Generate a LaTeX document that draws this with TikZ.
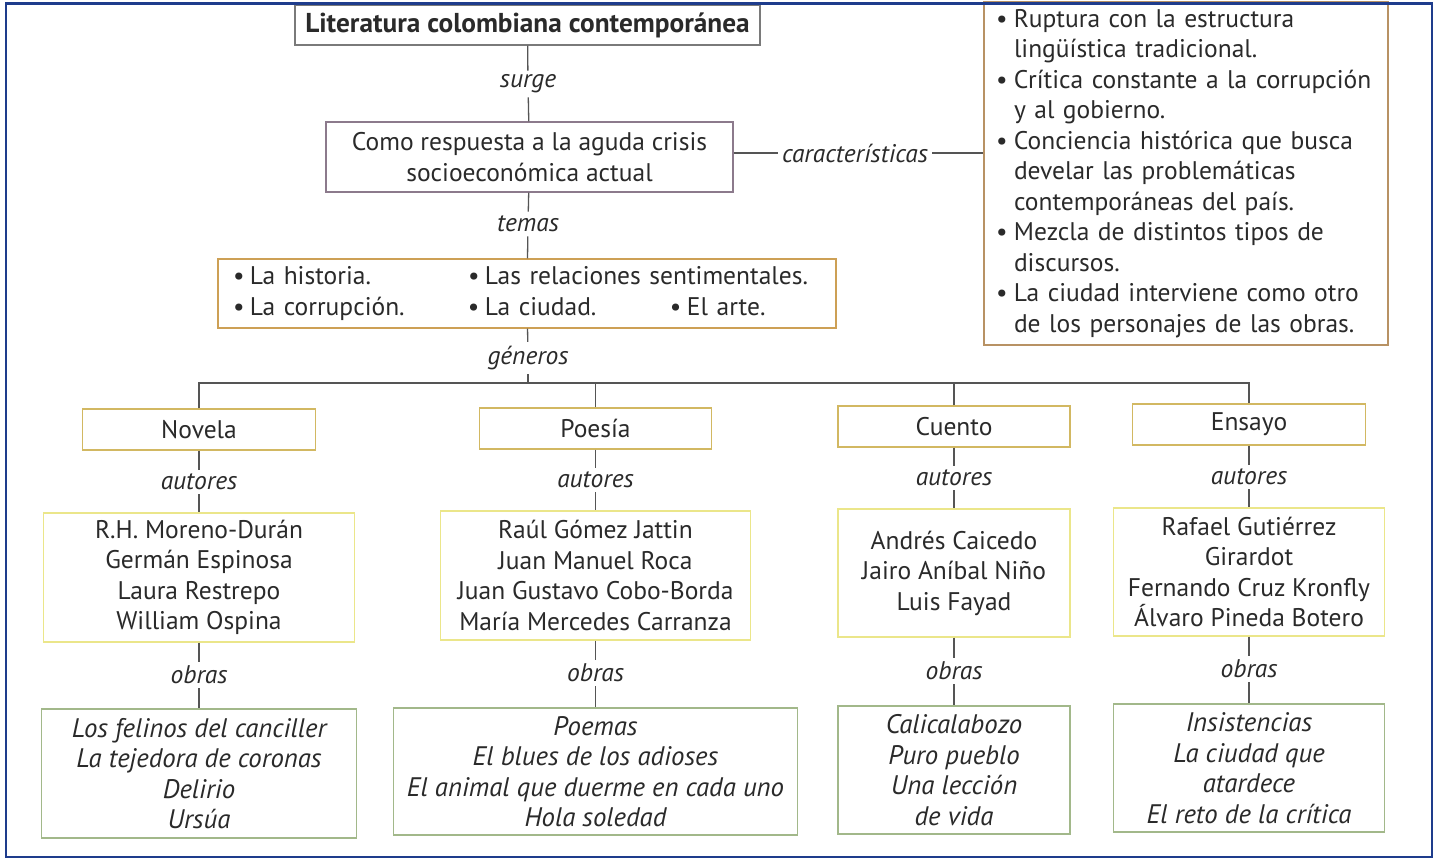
\documentclass[tikz,border=0pt]{standalone}
\usepackage{fontspec}
\setmainfont{PT Sans}
\newcommand\dgsize{\fontsize{25.5}{30.5}\selectfont}
\newcommand\dgtitle{\fontsize{27.3}{30.5}\selectfont\bfseries}
\newcommand\dgworks{\fontsize{26.8}{30.5}\selectfont\itshape}
\definecolor{titleC}{HTML}{7A7A7A}
\definecolor{boxtwoC}{HTML}{8C7A8C}
\definecolor{topicC}{HTML}{CDA055}
\definecolor{charC}{HTML}{B89264}
\definecolor{genreC}{HTML}{D2B862}
\definecolor{autC}{HTML}{EBE68A}
\definecolor{obrC}{HTML}{A2B88A}
\definecolor{lineC}{HTML}{555555}
\definecolor{frameC}{HTML}{1E3C8C}
\definecolor{textC}{HTML}{2A2A2A}
\begin{document}
\begin{tikzpicture}[x=1pt,y=-1pt,
  box/.style={draw, rectangle, inner sep=0pt, align=center, font=\dgsize, text=textC, line width=1.2pt},
  lab/.style={font=\dgsize\itshape, text=textC, inner sep=4pt},
  conn/.style={draw=lineC, line width=1.3pt}]
\useasboundingbox (0,0) rectangle (1435,859);
\fill[white] (0,0) rectangle (1435,859);

% top
\node[box, draw=titleC, minimum width=465, minimum height=40, font=\dgtitle] (title) at (527.5,25) {Literatura colombiana contemporánea};
\node[lab] (surge) at (528,84) {surge};
\node[box, draw=boxtwoC, minimum width=407, minimum height=70] (crisis) at (529.5,157) {Como respuesta a la aguda crisis\\socioeconómica actual};
\node[lab] (temas) at (528,224) {temas};
\node[box, draw=topicC, minimum width=618, minimum height=69, inner xsep=9pt, text width=600, align=left] (topics) at (527,293.5)
  {\hspace*{6pt}\makebox[235pt][l]{\makebox[17pt][l]{•}La historia.}\makebox[17pt][l]{•}Las relaciones sentimentales.\\
   \hspace*{6pt}\makebox[235pt][l]{\makebox[17pt][l]{•}La corrupción.}\makebox[202pt][l]{\makebox[17pt][l]{•}La ciudad.}\makebox[17pt][l]{•}El arte.};
\node[lab] (generos) at (528,358) {géneros};
\coordinate (barc) at (528,383);

% characteristics
\node[lab] (carac) at (855,153) {características};
\node[box, draw=charC, minimum width=404, minimum height=343, inner xsep=6pt, text width=392, align=left] (chars) at (1186,173.5)
  {\hspace*{6pt}\makebox[18pt][l]{•}Ruptura con la estructura\\
   \hspace*{24pt}lingüística tradicional.\\
   \hspace*{6pt}\makebox[18pt][l]{•}Crítica constante a la corrupción\\
   \hspace*{24pt}y al gobierno.\\
   \hspace*{6pt}\makebox[18pt][l]{•}Conciencia histórica que busca\\
   \hspace*{24pt}develar las problemáticas\\
   \hspace*{24pt}contemporáneas del país.\\
   \hspace*{6pt}\makebox[18pt][l]{•}Mezcla de distintos tipos de\\
   \hspace*{24pt}discursos.\\
   \hspace*{6pt}\makebox[18pt][l]{•}La ciudad interviene como otro\\
   \hspace*{24pt}de los personajes de las obras.};

% genres
\node[box, draw=genreC, minimum width=233, minimum height=41] (novela) at (199,429.5) {Novela};
\node[box, draw=genreC, minimum width=232, minimum height=41] (poesia) at (595.5,428.5) {Poesía};
\node[box, draw=genreC, minimum width=232, minimum height=41] (cuento) at (954,426.5) {Cuento};
\node[box, draw=genreC, minimum width=233, minimum height=41] (ensayo) at (1249,424.5) {Ensayo};

\node[lab] (autN) at (199,482) {autores};
\node[lab] (autP) at (595.5,480) {autores};
\node[lab] (autC) at (954,478) {autores};
\node[lab] (autE) at (1249,477) {autores};

\node[box, draw=autC, minimum width=311, minimum height=129] (authN) at (199,577.5)
  {R.H. Moreno-Durán\\Germán Espinosa\\Laura Restrepo\\William Ospina};
\node[box, draw=autC, minimum width=310, minimum height=129] (authP) at (595.5,575.5)
  {Raúl Gómez Jattin\\Juan Manuel Roca\\Juan Gustavo Cobo-Borda\\María Mercedes Carranza};
\node[box, draw=autC, minimum width=232, minimum height=128] (authC) at (954,573)
  {Andrés Caicedo\\Jairo Aníbal Niño\\Luis Fayad};
\node[box, draw=autC, minimum width=271, minimum height=128] (authE) at (1249,572)
  {Rafael Gutiérrez\\Girardot\\Fernando Cruz Kronfly\\Álvaro Pineda Botero};

\node[lab] (obN) at (199,675) {obras};
\node[lab] (obP) at (595.5,673) {obras};
\node[lab] (obC) at (954,671) {obras};
\node[lab] (obE) at (1249,669) {obras};

\node[box, draw=obrC, minimum width=315, minimum height=129, font=\dgworks] (worksN) at (199,773.5)
  {Los felinos del canciller\\La tejedora de coronas\\Delirio\\Ursúa};
\node[box, draw=obrC, minimum width=404, minimum height=127, font=\dgworks] (worksP) at (595.5,771.5)
  {Poemas\\El blues de los adioses\\El animal que duerme en cada uno\\Hola soledad};
\node[box, draw=obrC, minimum width=232, minimum height=128, font=\dgworks] (worksC) at (954,770)
  {Calicalabozo\\Puro pueblo\\Una lección\\de vida};
\node[box, draw=obrC, minimum width=271, minimum height=128, font=\dgworks] (worksE) at (1249,768)
  {Insistencias\\La ciudad que\\atardece\\El reto de la crítica};

% connectors
\draw[conn] (title) -- (surge);
\draw[conn] (surge) -- (crisis);
\draw[conn] (crisis) -- (temas);
\draw[conn] (temas) -- (topics);
\draw[conn] (topics) -- (generos);
\draw[conn] (generos) -- (barc);
\draw[conn] (crisis.east |- carac) -- (carac);
\draw[conn] (carac) -- (chars.west |- carac);
\draw[conn] (novela.north) -- (novela.north |- barc) -- (ensayo.north |- barc) -- (ensayo.north);
\draw[conn] (poesia.north) -- (poesia.north |- barc);
\draw[conn] (cuento.north) -- (cuento.north |- barc);
\foreach \g/\a/\au/\o/\w in {novela/autN/authN/obN/worksN, poesia/autP/authP/obP/worksP, cuento/autC/authC/obC/worksC, ensayo/autE/authE/obE/worksE}{
  \draw[conn] (\g) -- (\a);
  \draw[conn] (\a) -- (\au);
  \draw[conn] (\au) -- (\o);
  \draw[conn] (\o) -- (\w);
}

% frame
\draw[frameC, line width=2.5pt] (6,3.5) rectangle (1432,857);
\end{tikzpicture}
\end{document}
